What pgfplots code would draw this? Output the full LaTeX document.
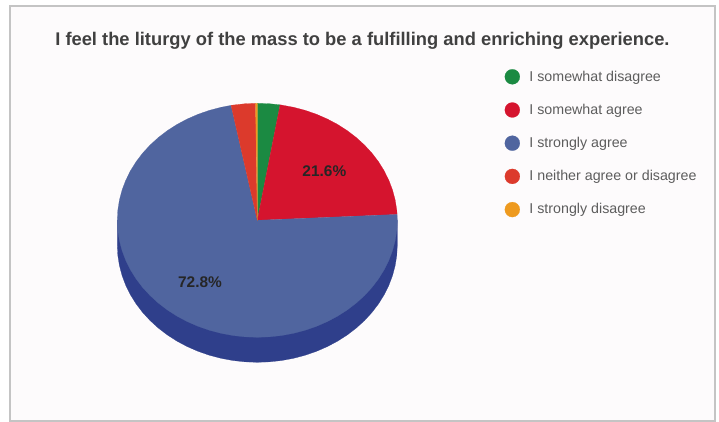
\documentclass[border=0pt]{standalone}
\usepackage{fontspec}
\setmainfont{Liberation Sans}
\usepackage{pgfplots}
\pgfplotsset{compat=1.18}

\definecolor{wgreen}{HTML}{1B8A42}
\definecolor{wred}{HTML}{D5142E}
\definecolor{wblue}{HTML}{50659F}
\definecolor{wside}{HTML}{2F3F8B}
\definecolor{wverm}{HTML}{DC3A2C}
\definecolor{worange}{HTML}{EE9A1F}
\definecolor{txt}{HTML}{404040}
\definecolor{panel}{HTML}{FDFBFC}
\definecolor{frame}{HTML}{C4C4C4}

\begin{document}
\begin{tikzpicture}
  \begin{axis}[
      scale only axis,
      width=719bp,
      height=422bp,
      xmin=-1.8379, xmax=3.2979,
      ymin=-1.7239, ymax=1.8829,
      hide axis,
      clip=false,
      legend cell align=left,
      legend style={
        at={(rel axis cs:0.7017,0.8365)},
        anchor=north west,
        draw=none,
        fill=none,
        font=\fontsize{14.3}{16}\selectfont\color{txt!85},
        row sep=18bp,
        inner sep=0pt,
        nodes={inner sep=0pt, anchor=west},
      },
      legend image code/.code={
        \path (-7.5bp,0pt) (17bp,0pt);
        \path[#1] (0pt,0pt) circle (7.5bp);
      },
      wedge/.style={fill=#1, draw=#1, line width=0.2pt},
    ]
    % the whole page, a hidden axis adds nothing to the bounding box
    \path (rel axis cs:0,0) rectangle (rel axis cs:1,1);
    % background panel and thin frame
    \fill[panel] (axis cs:-1.7664,1.8316) rectangle (axis cs:3.2693,-1.7154);
    \draw[frame, line width=2bp] (axis cs:-1.7664,1.8316) rectangle (axis cs:3.2693,-1.7154);

    % side wall, 25 px below the top face
    \addplot[wedge=wside, forget plot] coordinates {
      (1,0) (1,-.2137)
      (.9962,-.3009) (.9848,-.3873) (.9659,-.4725) (.9397,-.5557) (.9063,-.6363)
      (.866,-.7137) (.8192,-.7873) (.766,-.8565) (.7071,-.9208) (.6428,-.9797)
      (.5736,-1.0329) (.5,-1.0797) (.4226,-1.12) (.342,-1.1534) (.2588,-1.1796)
      (.1736,-1.1985) (.0872,-1.2099) (0,-1.2137)
      (-.0872,-1.2099) (-.1736,-1.1985) (-.2588,-1.1796) (-.342,-1.1534) (-.4226,-1.12)
      (-.5,-1.0797) (-.5736,-1.0329) (-.6428,-.9797) (-.7071,-.9208) (-.766,-.8565)
      (-.8192,-.7873) (-.866,-.7137) (-.9063,-.6363) (-.9397,-.5557) (-.9659,-.4725)
      (-.9848,-.3873) (-.9962,-.3009) (-1,-.2137) (-1,0)
    } -- cycle;

    % I somewhat disagree, 2.6
    \addplot[wedge=wgreen] coordinates {
      (0,0) (0,1) (.0872,.9962) (.1626,.9867)
    } -- cycle;
    % I somewhat agree, 21.6
    \addplot[wedge=wred] coordinates {
      (0,0) (.1626,.9867) (.1736,.9848) (.2588,.9659) (.342,.9397) (.4226,.9063)
      (.5,.866) (.5736,.8192) (.6428,.766) (.7071,.7071) (.766,.6428) (.8192,.5736)
      (.866,.5) (.9063,.4226) (.9397,.342) (.9659,.2588) (.9848,.1736) (.9962,.0872)
      (.9987,.0502)
    } -- cycle;
    % I strongly agree, 72.8
    \addplot[wedge=wblue] coordinates {
      (0,0) (.9987,.0502) (1,0)
      (.9962,-.0872) (.9848,-.1736) (.9659,-.2588) (.9397,-.342) (.9063,-.4226)
      (.866,-.5) (.8192,-.5736) (.766,-.6428) (.7071,-.7071) (.6428,-.766)
      (.5736,-.8192) (.5,-.866) (.4226,-.9063) (.342,-.9397) (.2588,-.9659)
      (.1736,-.9848) (.0872,-.9962) (0,-1)
      (-.0872,-.9962) (-.1736,-.9848) (-.2588,-.9659) (-.342,-.9397) (-.4226,-.9063)
      (-.5,-.866) (-.5736,-.8192) (-.6428,-.766) (-.7071,-.7071) (-.766,-.6428)
      (-.8192,-.5736) (-.866,-.5) (-.9063,-.4226) (-.9397,-.342) (-.9659,-.2588)
      (-.9848,-.1736) (-.9962,-.0872) (-1,0)
      (-.9962,.0872) (-.9848,.1736) (-.9659,.2588) (-.9397,.342) (-.9063,.4226)
      (-.866,.5) (-.8192,.5736) (-.766,.6428) (-.7071,.7071) (-.6428,.766)
      (-.5736,.8192) (-.5,.866) (-.4226,.9063) (-.342,.9397) (-.2588,.9659)
      (-.1874,.9823)
    } -- cycle;
    % I neither agree or disagree, 2.8
    \addplot[wedge=wverm] coordinates {
      (0,0) (-.1874,.9823) (-.1736,.9848) (-.0872,.9962) (-.0126,.9999)
    } -- cycle;
    % I strongly disagree, 0.2
    \addplot[wedge=worange] coordinates {
      (0,0) (-.0126,.9999) (0,1)
    } -- cycle;

    \legend{I somewhat disagree, I somewhat agree, I strongly agree,
      I neither agree or disagree, I strongly disagree}

    \node[font=\fontsize{15.5}{18}\selectfont\bfseries, text=black!85] at (axis cs:.479,.421) {21.6\%};
    \node[font=\fontsize{15.5}{18}\selectfont\bfseries, text=black!85] at (axis cs:-.409,-.525) {72.8\%};
    \node[font=\fontsize{18.4}{20}\selectfont\bfseries, text=txt] at (axis cs:.751,1.532)
      {I feel the liturgy of the mass to be a fulfilling and enriching experience.};
  \end{axis}
\end{tikzpicture}
\end{document}
